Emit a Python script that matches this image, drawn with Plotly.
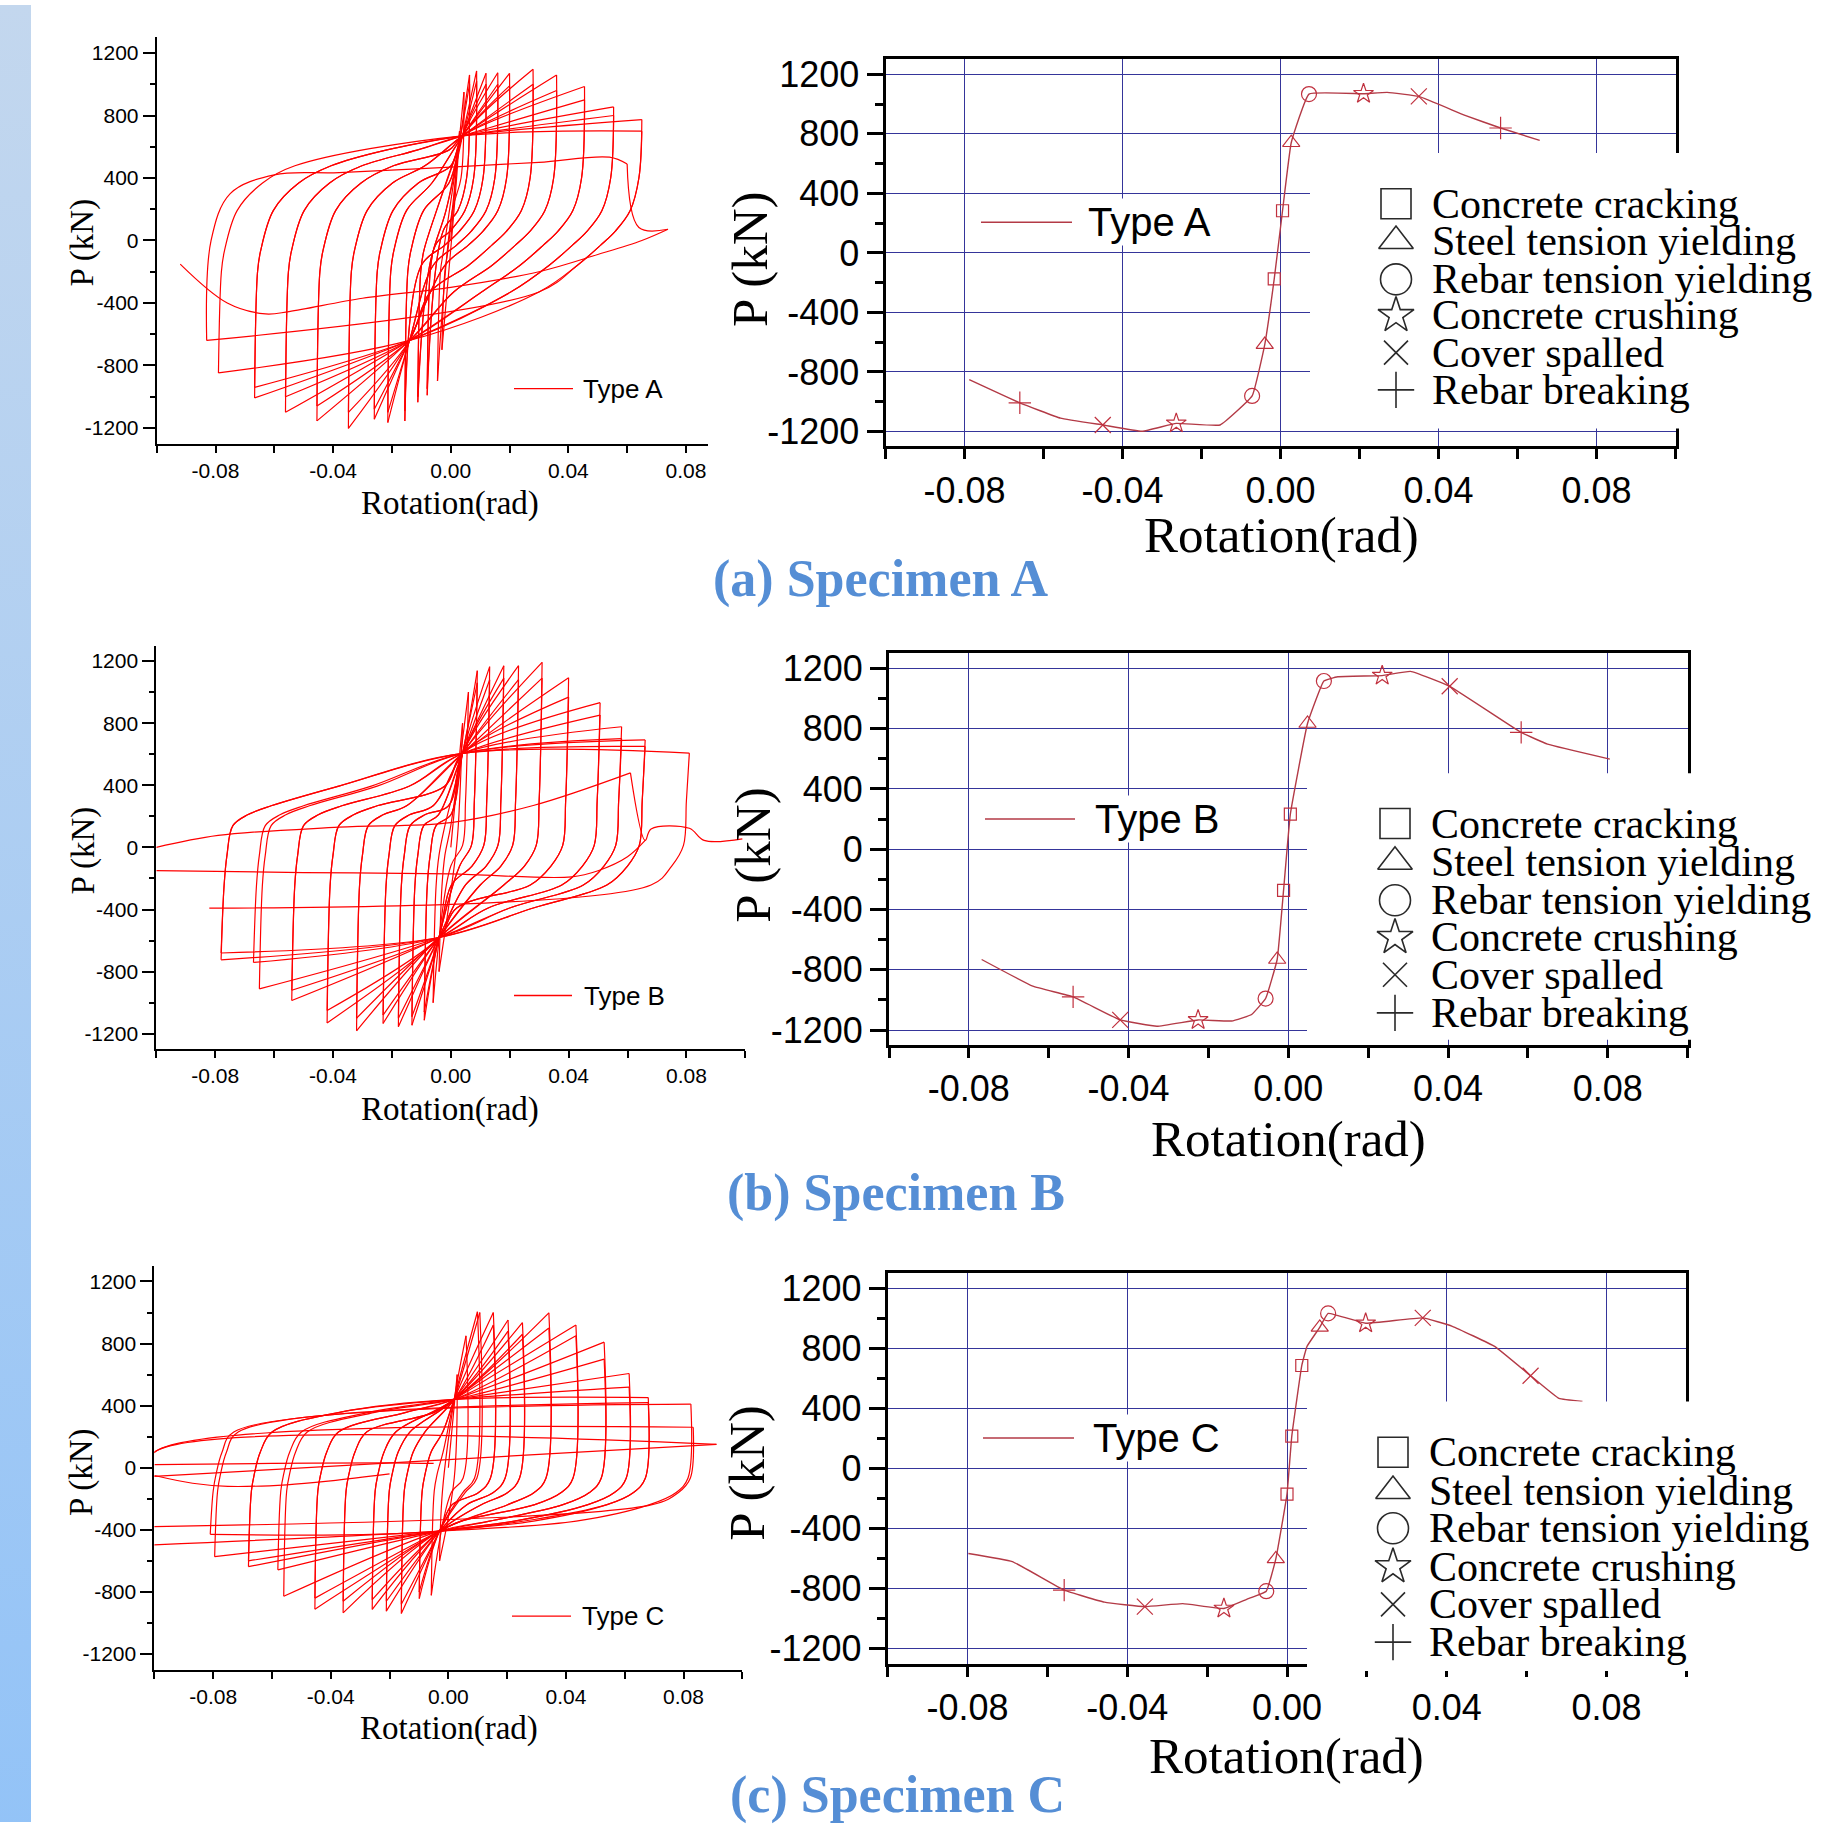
import plotly.graph_objects as go

W, H = 1834, 1828

# ---------------- DATA ----------------
# Hysteresis cycle peaks, Specimen A
A_pos_rot = [0.003, 0.0045, 0.0064, 0.0064, 0.0088, 0.0088, 0.012, 0.012, 0.016, 0.016, 0.020, 0.020,
             0.028, 0.028, 0.036, 0.036, 0.0455, 0.0455, 0.0554, 0.0554, 0.065, 0.065]
A_pos_load = [700, 950, 1060, 1000, 1085, 1020, 1070, 1000, 1074, 1000, 1070, 990,
              1096, 1000, 1059, 960, 986, 900, 855, 800, 774, 700]
A_neg_rot = [-0.003, -0.0045, -0.008, -0.008, -0.0112, -0.0112, -0.0156, -0.0156, -0.0214, -0.0214, -0.026, -0.026,
             -0.0348, -0.0348, -0.0455, -0.0455, -0.0562, -0.0562, -0.0667, -0.0667, -0.079, -0.083]
A_neg_load = [-700, -900, -991, -950, -1035, -1000, -1155, -1090, -1166, -1100, -1144, -1080,
              -1203, -1100, -1155, -1060, -1100, -1000, -1008, -940, -848, -640]
A_ext_rot = [[-0.083, -0.0815, -0.075, -0.060, -0.038, 0.0, 0.030, 0.054, 0.060],
             [0.060, 0.064, 0.0739],
             [0.0739, 0.065, 0.05, 0.03, 0.0, -0.03, -0.055, -0.063, -0.076, -0.092]]
A_ext_load = [[-640, 0, 300, 420, 434, 470, 500, 533, 489],
              [489, 83, 72],
              [72, 0, -90, -200, -300, -370, -455, -470, -400, -151]]

# Specimen B
B_pos_rot = [0.004, 0.006, 0.009, 0.009, 0.0132, 0.0132, 0.018, 0.018, 0.023, 0.023, 0.031, 0.031,
             0.040, 0.040, 0.0507, 0.0507, 0.058, 0.058, 0.066, 0.066, 0.081]
B_pos_load = [800, 1000, 1138, 1060, 1164, 1080, 1170, 1090, 1170, 1080, 1192, 1090,
              1092, 968, 932, 852, 777, 700, 692, 650, 607]
B_neg_rot = [-0.004, -0.006, -0.009, -0.009, -0.0132, -0.0132, -0.0178, -0.0178, -0.023, -0.023, -0.032, -0.032,
             -0.042, -0.042, -0.054, -0.054, -0.065, -0.067, -0.078, -0.078, -0.082]
B_neg_load = [-800, -1000, -1113, -1060, -1145, -1090, -1155, -1100, -1134, -1080, -1181, -1100,
              -1130, -1050, -986, -920, -911, -741, -724, -680, -391]
B_ext_rot = [[-0.1, -0.079, -0.038, 0.0, 0.028, 0.061],
             [0.061, 0.066, 0.068, 0.081, 0.086, 0.099],
             [0.066, 0.06, 0.05, 0.041, 0.0, -0.05, -0.1]]
B_ext_load = [[0, 77, 130, 160, 270, 480],
              [480, 45, 119, 123, 45, 55],
              [45, -60, -150, -190, -170, -162, -150]]

# Specimen C
C_pos_rot = [0.003, 0.006, 0.0099, 0.0107, 0.0153, 0.0153, 0.0203, 0.0203, 0.0252, 0.0252, 0.0342, 0.0342,
             0.0434, 0.0434, 0.053, 0.053, 0.0615, 0.0615, 0.068, 0.068, 0.0825, 0.0833, 0.0912]
C_pos_load = [600, 850, 1005, 1000, 1000, 920, 952, 880, 935, 860, 998, 900,
              920, 850, 809, 700, 607, 520, 452, 420, 410, 261, 151]
C_neg_rot = [-0.003, -0.0058, -0.0099, -0.0099, -0.016, -0.016, -0.0211, -0.0211, -0.0259, -0.0259, -0.0358, -0.0358,
             -0.0454, -0.0454, -0.056, -0.058, -0.068, -0.068, -0.0795, -0.081, -0.104, -0.104, -0.104]
C_neg_load = [-600, -822, -843, -800, -939, -880, -924, -860, -913, -850, -935, -860,
              -911, -840, -828, -658, -637, -600, -573, -429, -500, -380, -60]
C_ext_rot = [[-0.1, -0.06, -0.02, -0.005],
             [-0.1, -0.087, -0.075, -0.055, -0.04, -0.02]]
C_ext_load = [[20, 28, 32, 28],
              [-50, -100, -120, -110, -85, -40]]

# Loop landmarks: knees (offset from the peak rotation, load) and pinch points
A_shape = dict(up=[(0.001, -200), (0.002, -70), (0.0064, 193), (0.015, 368), (0.026, 478), (0.045, 580)],
               tu=0.004, pu=670,
               dn=[(-0.001, 400), (-0.004, 190), (-0.009, 60), (-0.014, -30), (-0.022, -160), (-0.035, -330)],
               tl=-0.014, pl=-640)
B_shape = dict(up=[(0.001, -250), (0.002, -50), (0.004, 140), (0.009, 210), (0.017, 268), (0.04, 395)],
               tu=0.004, pu=605,
               dn=[(-0.001, 300), (-0.002, 13), (-0.006, -120), (-0.013, -242), (-0.038, -390)],
               tl=-0.004, pl=-580)
C_shape = dict(up=[(0.001, -150), (0.002, -40), (0.004, 100), (0.008, 230), (0.031, 357)],
               tu=0.002, pu=440,
               dn=[(-0.001, -68), (-0.005, -160), (-0.014, -238), (-0.039, -344)],
               tl=-0.003, pl=-408)

# Envelope curves (right column)
A_env_rot = [-0.0788, -0.066, -0.0557, -0.045, -0.035, -0.0264, -0.0153, -0.0072, -0.004, -0.0016, 0.0005,
             0.0027, 0.0072, 0.021, 0.027, 0.035, 0.0467, 0.0557, 0.0656]
A_env_load = [-851, -1007, -1110, -1156, -1198, -1145, -1156, -961, -616, -175, 283,
              740, 1067, 1069, 1078, 1051, 924, 839, 756]
B_env_rot = [-0.0768, -0.064, -0.0539, -0.0421, -0.0329, -0.0226, -0.0142, -0.0092, -0.0057, -0.0028, -0.0012,
             0.0005, 0.0048, 0.0089, 0.0124, 0.0235, 0.0306, 0.0404, 0.0583, 0.0649, 0.0805]
B_env_load = [-732, -909, -980, -1133, -1175, -1133, -1140, -1097, -991, -732, -273,
              233, 834, 1116, 1144, 1152, 1180, 1081, 775, 697, 598]
C_env_rot = [-0.0798, -0.0688, -0.0558, -0.0457, -0.0356, -0.0261, -0.0158, -0.0101, -0.0052, -0.0028, 0.0,
             0.0012, 0.0037, 0.005, 0.0082, 0.0103, 0.0197, 0.034, 0.0414, 0.052, 0.061, 0.0681, 0.074]
C_env_load = [-566, -620, -810, -890, -920, -900, -932, -871, -817, -602, -171,
              215, 685, 812, 939, 1032, 966, 1002, 946, 812, 617, 466, 446]

# Damage-state markers: (rotations, loads) for each state
STATES = ["Concrete cracking", "Steel tension yielding", "Rebar tension yielding",
          "Concrete crushing", "Cover spalled", "Rebar breaking"]
A_mk_rot = [[-0.0016, 0.0005], [-0.004, 0.0027], [-0.0072, 0.0072], [-0.0264, 0.021], [-0.045, 0.035], [-0.066, 0.0557]]
A_mk_load = [[-175, 283], [-616, 740], [-961, 1067], [-1145, 1069], [-1156, 1051], [-1007, 839]]
B_mk_rot = [[-0.0012, 0.0005], [-0.0028, 0.0048], [-0.0057, 0.0089], [-0.0226, 0.0235], [-0.0421, 0.0404], [-0.0539, 0.0583]]
B_mk_load = [[-273, 233], [-732, 834], [-991, 1116], [-1133, 1152], [-1133, 1081], [-980, 775]]
C_mk_rot = [[0.0, 0.0012, 0.0037], [-0.0028, 0.0082], [-0.0052, 0.0103], [-0.0158, 0.0197], [-0.0356, 0.034, 0.061], [-0.0558]]
C_mk_load = [[-171, 215, 685], [-602, 939], [-817, 1032], [-932, 966], [-920, 1002, 617], [-810]]

Y_TICKS = [-1200, -800, -400, 0, 400, 800, 1200]
Y_TEXT = ["-1200", "-800", "-400", "0", "400", "800", "1200"]
X_TICKS = [-0.08, -0.04, 0.0, 0.04, 0.08]
X_TEXT = ["-0.08", "-0.04", "0.00", "0.04", "0.08"]

# ---------------- STYLE ----------------
SERIF = "Liberation Serif, Times New Roman, serif"
SANS = "Liberation Sans, Arial, sans-serif"
RED = "#FF0000"
ENV = "#B33A46"
MK = "#C0303E"
GRID = "#35359A"
SYMS = ["square-open", "triangle-up-open", "circle-open", "star-open", "x-thin-open", "cross-thin-open"]
MK_SIZE = [12, 15, 15, 15, 16, 16]
LG_SIZE = [30, 30, 31, 27, 24, 26]


def up_branch(tn, pn, tp, pp, s):
    xs, ys = [tn], [pn]
    limit = min(s['tu'], tp) - 0.003
    for d, p in s['up']:
        if tn + d < limit and 0.8 * pn < p < 0.8 * pp:
            xs.append(tn + d); ys.append(p)
    if xs[-1] < s['tu'] - 0.003 and tp > s['tu'] + 0.003 and pp > s['pu']:
        xs.append(s['tu']); ys.append(s['pu'])
    xs.append(tp); ys.append(pp)
    return xs, ys


def down_branch(tp, pp, tn, pn, s):
    xs, ys = [tp], [pp]
    limit = max(s['tl'], tn) + 0.003
    for d, p in s['dn']:
        if tp + d > limit and 0.8 * pn < p < 0.8 * pp:
            xs.append(tp + d); ys.append(p)
    if xs[-1] > s['tl'] + 0.003 and tn < s['tl'] - 0.003 and pn < s['pl']:
        xs.append(s['tl']); ys.append(s['pl'])
    xs.append(tn); ys.append(pn)
    return xs, ys


def hysteresis(pr, pl_, nr, nl, shape, ext_r, ext_l):
    X, Y = [0.0, pr[0]], [0.0, pl_[0]]
    for i in range(len(pr)):
        if i > 0:
            bx, by = up_branch(nr[i - 1], nl[i - 1], pr[i], pl_[i], shape)
            X += [None] + bx; Y += [None] + by
        bx, by = down_branch(pr[i], pl_[i], nr[i], nl[i], shape)
        X += [None] + bx; Y += [None] + by
    for er, el in zip(ext_r, ext_l):
        X += [None] + list(er); Y += [None] + list(el)
    return X, Y


def dx(a, b):
    return [a / W, b / W]


def dy(top, bot):
    return [1 - bot / H, 1 - top / H]


fig = go.Figure()

specimens = [
    dict(name="A", pr=A_pos_rot, pl=A_pos_load, nr=A_neg_rot, nl=A_neg_load, sh=A_shape, er=A_ext_rot, el=A_ext_load,
         env_r=A_env_rot, env_l=A_env_load, mr=A_mk_rot, ml=A_mk_load,
         left=dict(x=(156.7, 708.0), y=(32.6, 441.2), xr=[-0.1, 0.0875]),
         right=dict(x=(885.5, 1675.6), y=(54.7, 444.1))),
    dict(name="B", pr=B_pos_rot, pl=B_pos_load, nr=B_neg_rot, nl=B_neg_load, sh=B_shape, er=B_ext_rot, el=B_ext_load,
         env_r=B_env_rot, env_l=B_env_load, mr=B_mk_rot, ml=B_mk_load,
         left=dict(x=(156.3, 745.3), y=(644.4, 1050.6), xr=[-0.1, 0.1]),
         right=dict(x=(889.0, 1687.7), y=(652.2, 1046.4))),
    dict(name="C", pr=C_pos_rot, pl=C_pos_load, nr=C_neg_rot, nl=C_neg_load, sh=C_shape, er=C_ext_rot, el=C_ext_load,
         env_r=C_env_rot, env_l=C_env_load, mr=C_mk_rot, ml=C_mk_load,
         left=dict(x=(154.4, 742.3), y=(1268.6, 1674.6), xr=[-0.1, 0.1]),
         right=dict(x=(887.7, 1686.3), y=(1275.8, 1668.8))),
]

layout_axes = {}
for k, sp in enumerate(specimens):
    li, ri = 2 * k + 1, 2 * k + 2
    lx = "x" if li == 1 else f"x{li}"
    ly = "y" if li == 1 else f"y{li}"
    rx, ry = f"x{ri}", f"y{ri}"

    hx, hy = hysteresis(sp['pr'], sp['pl'], sp['nr'], sp['nl'], sp['sh'], sp['er'], sp['el'])
    fig.add_trace(go.Scatter(x=hx, y=hy, mode="lines", xaxis=lx, yaxis=ly, showlegend=False,
                             line=dict(color=RED, width=1.2, shape="spline", smoothing=1.0),
                             connectgaps=False, hoverinfo="skip"))

    fig.add_trace(go.Scatter(x=sp['env_r'], y=sp['env_l'], mode="lines", xaxis=rx, yaxis=ry, showlegend=False,
                             line=dict(color=ENV, width=1.4, shape="spline", smoothing=0.3), hoverinfo="skip"))
    for j in range(6):
        fig.add_trace(go.Scatter(x=sp['mr'][j], y=sp['ml'][j], mode="markers", xaxis=rx, yaxis=ry,
                                 showlegend=False, cliponaxis=False, hoverinfo="skip",
                                 marker=dict(symbol=SYMS[j], size=MK_SIZE[j], color=MK,
                                             line=dict(color=MK, width=1.2))))

    L, R = sp['left'], sp['right']
    minor_lx = [-0.1, -0.06, -0.02, 0.02, 0.06] + ([0.1] if L['xr'][1] >= 0.1 else [])
    layout_axes["xaxis" if li == 1 else f"xaxis{li}"] = dict(
        domain=dx(*L['x']), range=L['xr'], anchor=ly, showline=True, linecolor="black", linewidth=2,
        ticks="outside", ticklen=7, tickwidth=1.5, tickcolor="black", tickvals=X_TICKS, ticktext=X_TEXT,
        tickfont=dict(family=SANS, size=21, color="black"), showgrid=False, zeroline=False,
        minor=dict(tickvals=minor_lx, ticks="outside", ticklen=7, tickwidth=1.5, tickcolor="black", showgrid=False),
        fixedrange=True)
    layout_axes["yaxis" if li == 1 else f"yaxis{li}"] = dict(
        domain=dy(*L['y']), range=[-1300, 1300], anchor=lx, showline=True, linecolor="black", linewidth=2,
        ticks="outside", ticklen=12, tickwidth=1.5, tickcolor="black", tickvals=Y_TICKS, ticktext=Y_TEXT,
        tickfont=dict(family=SANS, size=21, color="black"), showgrid=False, zeroline=False,
        minor=dict(tickvals=[-1000, -600, -200, 200, 600, 1000], ticks="outside", ticklen=5, tickwidth=1.5,
                   tickcolor="black", showgrid=False),
        fixedrange=True)
    layout_axes[f"xaxis{ri}"] = dict(
        domain=dx(*R['x']), range=[-0.1, 0.1], anchor=ry, showline=True, linecolor="black", linewidth=3,
        mirror=True, ticks="outside", ticklen=10, tickwidth=2.5, tickcolor="black", tickvals=X_TICKS,
        ticktext=X_TEXT, tickfont=dict(family=SANS, size=36, color="black"), showgrid=True, gridcolor=GRID,
        gridwidth=1.2, zeroline=False,
        minor=dict(tickvals=[-0.1, -0.06, -0.02, 0.02, 0.06, 0.1], ticks="outside", ticklen=10, tickwidth=2.5,
                   tickcolor="black", showgrid=False),
        fixedrange=True)
    layout_axes[f"yaxis{ri}"] = dict(
        domain=dy(*R['y']), range=[-1300, 1300], anchor=rx, showline=True, linecolor="black", linewidth=3,
        mirror=True, ticks="outside", ticklen=16, tickwidth=2.5, tickcolor="black", tickvals=Y_TICKS,
        ticktext=Y_TEXT, tickfont=dict(family=SANS, size=36, color="black"), showgrid=True, gridcolor=GRID,
        gridwidth=1.2, zeroline=False,
        minor=dict(tickvals=[-1000, -600, -200, 200, 600, 1000], ticks="outside", ticklen=8, tickwidth=2.5,
                   tickcolor="black", showgrid=False),
        fixedrange=True)

# ---------------- overlay (pixel) axes for decorations ----------------
layout_axes["xaxis7"] = dict(domain=[0, 1], range=[0, W], anchor="y7", visible=False, fixedrange=True)
layout_axes["yaxis7"] = dict(domain=[0, 1], range=[H, 0], anchor="x7", visible=False, fixedrange=True)

# left gradient strip
fig.add_trace(go.Scatter(x=[0, 31, 31, 0, 0], y=[0, 0, H, H, 0], xaxis="x7", yaxis="y7", mode="lines",
                         fill="toself", line=dict(width=0, color="rgba(0,0,0,0)"),
                         fillgradient=dict(type="vertical", start=0, stop=H,
                                           colorscale=[[0, "#C3D7EE"], [1, "#93C3F7"]]),
                         showlegend=False, hoverinfo="skip"))

# white legend boxes over the right plots
BOXES = [((1310, 1700), (149, 426)), ((1307, 1700), (773, 1041)), ((1307, 1700), (1405, 1676))]
for (x0, x1), (y0, y1) in BOXES:
    fig.add_trace(go.Scatter(x=[x0, x1, x1, x0, x0], y=[y0, y0, y1, y1, y0], xaxis="x7", yaxis="y7",
                             mode="lines", fill="toself", fillcolor="white", line=dict(width=0, color="white"),
                             showlegend=False, hoverinfo="skip"))

annotations = []


def ann(x, y, text, size, family, xanchor="center", yanchor="middle", angle=0, color="black", bg=None):
    d = dict(x=x, y=y, xref="x7", yref="y7", text=text, showarrow=False, xanchor=xanchor, yanchor=yanchor,
             textangle=angle, font=dict(family=family, size=size, color=color))
    if bg:
        d['bgcolor'] = bg
    annotations.append(d)


LEG_ROWS = [[200, 237.5, 276, 312.3, 349.7, 387.2],
            [823.5, 862, 900.7, 938, 975.6, 1014],
            [1456, 1495, 1532.5, 1571, 1609, 1647]]
LEG_SYM_X = [1396, 1395, 1393]
LEG_TXT_X = [1430, 1429, 1427]
TYPE_R = [dict(l=(981, 1072), y=218.5, tx=1086), dict(l=(985, 1075), y=819, tx=1093),
          dict(l=(983, 1074), y=1441.7, tx=1091)]
TYPE_L = [dict(l=(514, 573), y=386, tx=581), dict(l=(514, 572), y=996.5, tx=582),
          dict(l=(512, 571), y=1620.8, tx=580)]
LEFT_P = [(83, 239), (83.6, 851), (81, 1476)]
LEFT_ROT = [(450, 502), (450, 1111), (449, 1734)]
RIGHT_P = [(750, 255.5), (753, 855), (747, 1476.7)]
RIGHT_ROT = [(1281, 533), (1288, 1140.7), (1286.6, 1762)]
TITLES = [("(a) Specimen A", 881, 577), ("(b) Specimen B", 896, 1195), ("(c) Specimen C", 897, 1801)]

for k, sp in enumerate(specimens):
    rows = LEG_ROWS[k]
    for j in range(6):
        fig.add_trace(go.Scatter(x=[LEG_SYM_X[k]], y=[rows[j]], xaxis="x7", yaxis="y7", mode="markers",
                                 cliponaxis=False, showlegend=False, hoverinfo="skip",
                                 marker=dict(symbol=SYMS[j], size=LG_SIZE[j], color="#2a2a2a",
                                             line=dict(color="#2a2a2a", width=1.6))))
        ann(LEG_TXT_X[k], rows[j], STATES[j], 42, SERIF, xanchor="left")
    tr = TYPE_R[k]
    fig.add_trace(go.Scatter(x=list(tr['l']), y=[tr['y'], tr['y']], xaxis="x7", yaxis="y7", mode="lines",
                             line=dict(color=ENV, width=1.4), showlegend=False, hoverinfo="skip"))
    ann(tr['tx'], tr['y'], f"Type {sp['name']}", 40, SANS, xanchor="left", bg="white")
    tl = TYPE_L[k]
    fig.add_trace(go.Scatter(x=list(tl['l']), y=[tl['y'], tl['y']], xaxis="x7", yaxis="y7", mode="lines",
                             line=dict(color=RED, width=1.3), showlegend=False, hoverinfo="skip"))
    ann(tl['tx'], tl['y'], f"Type {sp['name']}", 26, SANS, xanchor="left")
    ann(*LEFT_P[k], "P (kN)", 33, SERIF, angle=-90)
    ann(*LEFT_ROT[k], "Rotation(rad)", 33, SERIF)
    ann(*RIGHT_P[k], "P (kN)", 51, SERIF, angle=-90)
    ann(*RIGHT_ROT[k], "Rotation(rad)", 51, SERIF)
    t, tx, ty = TITLES[k]
    ann(tx, ty, f"<b>{t}</b>", 52, SERIF, color="#558ED5")

fig.update_layout(width=W, height=H, margin=dict(l=0, r=0, t=0, b=0), autosize=False,
                  paper_bgcolor="white", plot_bgcolor="rgba(0,0,0,0)", showlegend=False,
                  annotations=annotations, **layout_axes)

fig.write_html("out.html", config={"displayModeBar": False},
               post_script="document.body.style.margin='0px';")
